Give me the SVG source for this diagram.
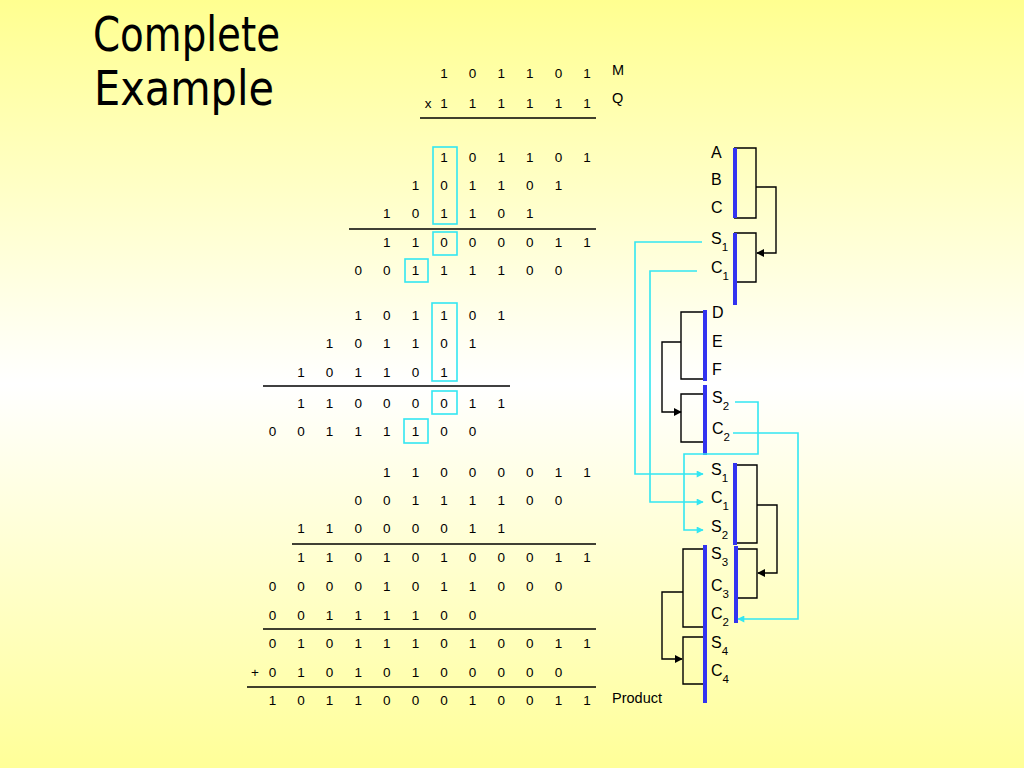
<svg xmlns="http://www.w3.org/2000/svg" width="1024" height="768" viewBox="0 0 1024 768">
<defs>
<linearGradient id="bg" x1="0" y1="0" x2="0" y2="1">
<stop offset="0" stop-color="#ffff90"/>
<stop offset="0.5" stop-color="#ffffff"/>
<stop offset="1" stop-color="#ffff98"/>
</linearGradient>
<marker id="ab" viewBox="0 0 10 10" refX="9" refY="5" markerWidth="8" markerHeight="8" markerUnits="userSpaceOnUse" orient="auto">
<path d="M0,0 L10,5 L0,10 z" fill="#000"/>
</marker>
<marker id="ac" viewBox="0 0 10 10" refX="9" refY="5" markerWidth="8" markerHeight="7" markerUnits="userSpaceOnUse" orient="auto">
<path d="M0,0 L10,5 L0,10 z" fill="#33e6f2"/>
</marker>
</defs>
<style>
.d{font-family:"Liberation Sans",Arial,sans-serif;font-size:13.5px;fill:#000;text-anchor:middle}
.lb{font-family:"Liberation Sans",Arial,sans-serif;font-size:16px;fill:#000}
.sm{font-family:"Liberation Sans",Arial,sans-serif;font-size:14.5px;fill:#000}
.sb{font-size:11.5px}
.rl{stroke:#000;stroke-width:1.5;fill:none}
.cb{stroke:#33e6f2;stroke-width:1.6;fill:none}
.bar{stroke:#3333f0;stroke-width:4;fill:none}
.bx{stroke:#000;stroke-width:1.4;fill:none}
.cy{stroke:#33e6f2;stroke-width:1.6;fill:none}
.tt{font-family:"DejaVu Sans",Verdana,sans-serif;font-size:48px;fill:#000}
</style>
<rect x="0" y="0" width="1024" height="768" fill="url(#bg)"/>

<g id="title">
<text class="tt" x="93" y="51" textLength="187" lengthAdjust="spacingAndGlyphs">Complete</text>
<text class="tt" x="94" y="105" textLength="180" lengthAdjust="spacingAndGlyphs">Example</text>
</g>

<g id="multiplicand">
<text class="d" x="444 472.6 501.2 529.8 558.4 587" y="77.8">101101</text>
<text class="sm" x="612" y="75">M</text>
<text class="d" x="428" y="107.8">x</text>
<text class="d" x="444 472.6 501.2 529.8 558.4 587" y="107.8">111111</text>
<text class="sm" x="612" y="103">Q</text>
<line class="rl" x1="420" y1="118" x2="596" y2="118"/>
</g>

<g id="group1">
<text class="d" x="444 472.6 501.2 529.8 558.4 587" y="161.8">101101</text>
<text class="d" x="415.4 444 472.6 501.2 529.8 558.4" y="189.8">101101</text>
<text class="d" x="386.8 415.4 444 472.6 501.2 529.8" y="217.8">101101</text>
<line class="rl" x1="349" y1="229" x2="596" y2="229"/>
<text class="d" x="386.8 415.4 444 472.6 501.2 529.8 558.4 587" y="246.8">11000011</text>
<text class="d" x="358.2 386.8 415.4 444 472.6 501.2 529.8 558.4" y="274.8">00111100</text>
<rect class="cb" x="433" y="147" width="24" height="77"/>
<rect class="cb" x="433" y="232" width="24" height="23"/>
<rect class="cb" x="405" y="259" width="23" height="23"/>
</g>

<g id="group2">
<text class="d" x="358.2 386.8 415.4 444 472.6 501.2" y="319.8">101101</text>
<text class="d" x="329.6 358.2 386.8 415.4 444 472.6" y="347.8">101101</text>
<text class="d" x="301 329.6 358.2 386.8 415.4 444" y="376.8">101101</text>
<line class="rl" x1="263" y1="386" x2="510" y2="386"/>
<text class="d" x="301 329.6 358.2 386.8 415.4 444 472.6 501.2" y="407.8">11000011</text>
<text class="d" x="272.4 301 329.6 358.2 386.8 415.4 444 472.6" y="435.8">00111100</text>
<rect class="cb" x="432" y="303" width="25" height="78"/>
<rect class="cb" x="432" y="391" width="25" height="23"/>
<rect class="cb" x="404" y="419" width="24" height="24"/>
</g>

<g id="group3">
<text class="d" x="386.8 415.4 444 472.6 501.2 529.8 558.4 587" y="476.8">11000011</text>
<text class="d" x="358.2 386.8 415.4 444 472.6 501.2 529.8 558.4" y="504.8">00111100</text>
<text class="d" x="301 329.6 358.2 386.8 415.4 444 472.6 501.2" y="532.8">11000011</text>
<line class="rl" x1="292" y1="544" x2="596" y2="544"/>
<text class="d" x="301 329.6 358.2 386.8 415.4 444 472.6 501.2 529.8 558.4 587" y="561.8">11010100011</text>
<text class="d" x="272.4 301 329.6 358.2 386.8 415.4 444 472.6 501.2 529.8 558.4" y="590.8">00001011000</text>
<text class="d" x="272.4 301 329.6 358.2 386.8 415.4 444 472.6" y="619.8">00111100</text>
<line class="rl" x1="263" y1="629" x2="596" y2="629"/>
<text class="d" x="272.4 301 329.6 358.2 386.8 415.4 444 472.6 501.2 529.8 558.4 587" y="647.8">010111010011</text>
<text class="d" x="255" y="676.8">+</text>
<text class="d" x="272.4 301 329.6 358.2 386.8 415.4 444 472.6 501.2 529.8 558.4" y="676.8">01010100000</text>
<line class="rl" x1="247" y1="687" x2="596" y2="687"/>
<text class="d" x="272.4 301 329.6 358.2 386.8 415.4 444 472.6 501.2 529.8 558.4 587" y="704.8">101100010011</text>
<text class="sm" x="612" y="703">Product</text>
</g>

<g id="labels">
<text class="lb" x="711" y="158">A</text>
<text class="lb" x="711" y="185">B</text>
<text class="lb" x="711" y="212.5">C</text>
<text class="lb" x="711" y="244">S<tspan class="sb" dy="7">1</tspan></text>
<text class="lb" x="711" y="272.5">C<tspan class="sb" dy="7">1</tspan></text>
<text class="lb" x="712" y="318">D</text>
<text class="lb" x="712" y="347">E</text>
<text class="lb" x="712" y="374.5">F</text>
<text class="lb" x="712" y="403">S<tspan class="sb" dy="7">2</tspan></text>
<text class="lb" x="712" y="433.5">C<tspan class="sb" dy="7">2</tspan></text>
<text class="lb" x="711" y="475">S<tspan class="sb" dy="7">1</tspan></text>
<text class="lb" x="711" y="503">C<tspan class="sb" dy="7">1</tspan></text>
<text class="lb" x="711" y="532">S<tspan class="sb" dy="7">2</tspan></text>
<text class="lb" x="711" y="559">S<tspan class="sb" dy="7">3</tspan></text>
<text class="lb" x="711" y="590.5">C<tspan class="sb" dy="7">3</tspan></text>
<text class="lb" x="711" y="618.5">C<tspan class="sb" dy="7">2</tspan></text>
<text class="lb" x="711" y="647.5">S<tspan class="sb" dy="7">4</tspan></text>
<text class="lb" x="711" y="675.5">C<tspan class="sb" dy="7">4</tspan></text>
</g>

<g id="adders">
<path class="bx" d="M734,148 H756 V218 H734"/>
<path class="bx" d="M734,233 H756 V282 H734"/>
<path class="bx" d="M705,312 H681 V379 H705"/>
<path class="bx" d="M705,394 H681 V442 H705"/>
<path class="bx" d="M735,465 H757 V543 H735"/>
<path class="bx" d="M735,549 H757 V598 H735"/>
<path class="bx" d="M705,549 H683 V627 H705"/>
<path class="bx" d="M705,637 H683 V684 H705"/>
<line class="bar" x1="735" y1="148" x2="735" y2="218"/>
<line class="bar" x1="735" y1="233" x2="735" y2="305"/>
<line class="bar" x1="705" y1="310" x2="705" y2="381"/>
<line class="bar" x1="705" y1="385" x2="705" y2="455"/>
<line class="bar" x1="735" y1="463" x2="735" y2="545"/>
<line class="bar" x1="736" y1="546" x2="736" y2="623"/>
<line class="bar" x1="705" y1="545" x2="705" y2="703"/>
</g>

<g id="connectors">
<path class="bx" d="M756,187 H776 V253 H757" marker-end="url(#ab)"/>
<path class="bx" d="M681,342 H662 V412 H681" marker-end="url(#ab)"/>
<path class="bx" d="M757,505 H777 V573 H758" marker-end="url(#ab)"/>
<path class="bx" d="M683,592 H662 V659 H682" marker-end="url(#ab)"/>
<path class="cy" d="M702,242 H635 V474 H703" marker-end="url(#ac)"/>
<path class="cy" d="M697,271 H650 V502 H703" marker-end="url(#ac)"/>
<path class="cy" d="M735,402 H758 V454 H684 V530 H703" marker-end="url(#ac)"/>
<path class="cy" d="M733,433 H798 V619 H738" marker-end="url(#ac)"/>
</g>
</svg>
